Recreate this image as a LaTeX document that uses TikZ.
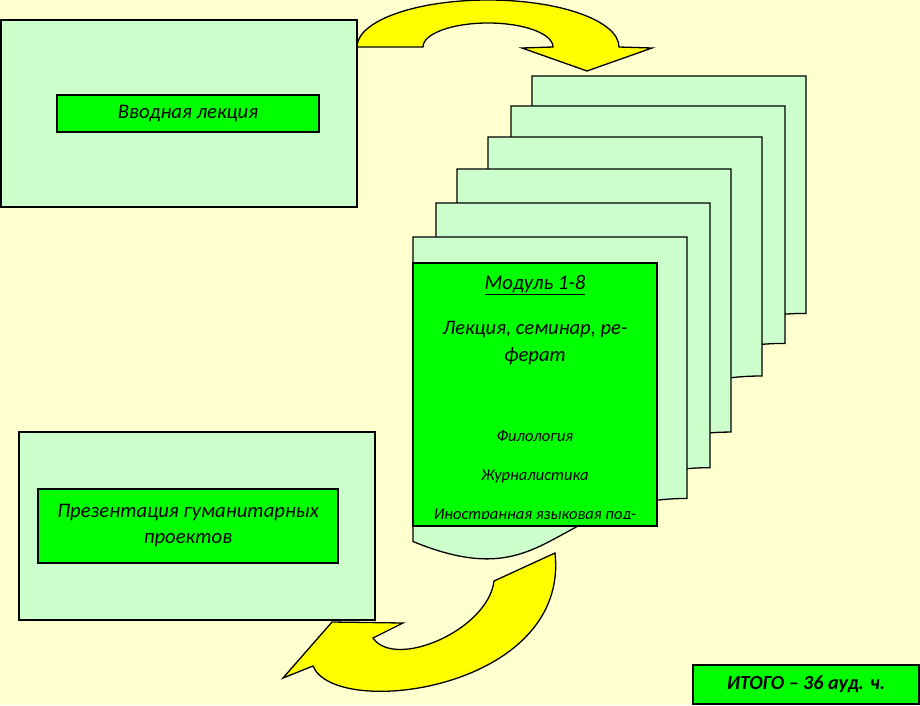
\documentclass[tikz,border=0pt]{standalone}
\usepackage{fontspec}
\setmainfont{Carlito}
\definecolor{bgyellow}{HTML}{FFFFD0}
\definecolor{pale}{HTML}{CCFFCC}
\definecolor{lime}{HTML}{00FF00}
\definecolor{arrowyellow}{HTML}{FFFF00}

\begin{document}
\begin{tikzpicture}[x=1pt,y=-1pt,line width=1.3pt,
  panel/.style={draw,fill=pale},
  tag/.style={draw,fill=lime,inner sep=0pt,align=center,font=\itshape\fontsize{20.7}{26}\selectfont},
  curvedarrow/.style={draw,fill=arrowyellow,line join=miter}]
\useasboundingbox (0,0) rectangle (920,705);
\fill[bgyellow] (0,0) rectangle (920,705);
% intro block
\node[panel,minimum width=356pt,minimum height=187pt] (intro) at (179,113.5) {};
\node[tag,minimum width=262pt,minimum height=37pt] (introtitle) at (188,113.5) {Вводная лекция};
% stack of module pages
\foreach \px/\py/\ph [count=\i] in {532/76/296,511/106/296,488/137/298,457/169/328,436/203/330,413/237/326}
  \draw[panel] (\px,\py) coordinate (page\i) -- (\px+274,\py) -- (\px+274,\py+0.802*\ph)
    .. controls (\px+137,\py+0.802*\ph) and (\px+137,\py+1.1075*\ph) .. (\px,\py+0.934*\ph) -- cycle;
\node[draw,fill=lime,minimum width=244pt,minimum height=263pt,inner sep=0pt] (module) at (535,394.5) {};
\node[font=\itshape\fontsize{20.8}{27}\selectfont] (modtitle) at (535,285) {\underline{Модуль 1-8}};
\node[font=\itshape\fontsize{20.6}{27}\selectfont,align=center] (modwork) at (535,343) {Лекция, семинар, ре-\\ферат};
\begin{scope}
\clip (414,264) rectangle (656,518);
\node[font=\itshape\fontsize{16.5}{39}\selectfont,align=center] (modsubj) at (535,476) {Филология\\Журналистика\\Иностранная языковая под-};
\end{scope}
% final block
\node[panel,minimum width=356pt,minimum height=188pt] (final) at (197,526) {};
\node[tag,minimum width=300pt,minimum height=74pt] (finaltitle) at (188,526) {Презентация гуманитарных\\проектов};
\node[draw,fill=lime,minimum width=226pt,minimum height=39pt,inner sep=0pt,
  font=\bfseries\itshape\fontsize{20}{22}\selectfont] (total) at (806,684.5) {ИТОГО – 36 ауд. ч.};
% curved arrows
\draw[curvedarrow] (357,47) .. controls (357,21) and (415.6,0) .. (488,0) .. controls (560.4,0) and (619,21) .. (619,47)
  -- (652,48) -- (587,71) -- (522,48) -- (553,47)
  .. controls (553,33.7) and (523.9,23) .. (488,23) .. controls (452.1,23) and (423,33.7) .. (423,47) -- cycle;
\draw[curvedarrow] (555,553) .. controls (570,690) and (335,720) .. (313,666) -- (283,678) -- (332,622) -- (403,623)
  -- (373,638) .. controls (395,670) and (488,630) .. (494,581) -- cycle;
\end{tikzpicture}
\end{document}
